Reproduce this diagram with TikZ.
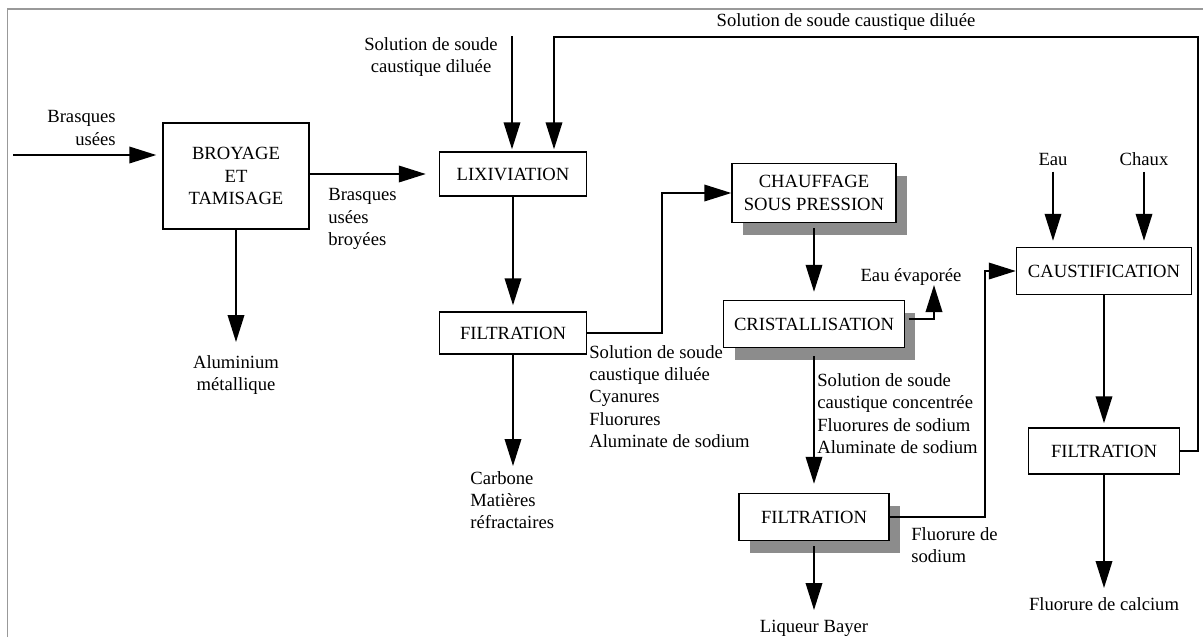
\documentclass[tikz,border=0pt]{standalone}
\usepackage{fontspec}
\setmainfont{Liberation Serif}
\usetikzlibrary{arrows.meta,positioning,shadows}

\begin{document}
\begin{tikzpicture}[x=0.02cm, y=-0.02cm, every node/.style={font=\fontsize{10.6}{12.7}\selectfont}, box/.style={draw, line width=0.8pt, fill=white, align=center, inner sep=0pt}, sbox/.style={box, general shadow={fill=black!45, shadow xshift=0.22cm, shadow yshift=-0.24cm}}, lbl/.style={inner sep=0pt, align=left}, arr/.style={-{Triangle[length=0.54cm, width=0.33cm]}, line width=1.1pt}]
\useasboundingbox (0,0) rectangle (1203,637);
\draw[black!40, line width=1.1pt] (7.5,637) -- (7.5,9) -- (1203,9);
\node[box, minimum width=2.92cm, minimum height=2.12cm] (broy) at (236,176) {BROYAGE\\ET\\TAMISAGE};
\node[box, minimum width=2.94cm, minimum height=0.88cm] (lix) at (513,174) {LIXIVIATION};
\node[box, minimum width=2.94cm, minimum height=0.84cm] (filt1) at (513,333) {FILTRATION};
\node[sbox, minimum width=3.28cm, minimum height=1.18cm] (chauf) at (814,193) {CHAUFFAGE\\SOUS PRESSION};
\node[sbox, minimum width=3.62cm, minimum height=0.94cm] (crist) at (814,324) {CRISTALLISATION};
\node[sbox, minimum width=3.0cm, minimum height=0.94cm] (filt2) at (814,517) {FILTRATION};
\node[box, minimum width=3.5cm, minimum height=0.94cm] (caust) at (1104,271) {CAUSTIFICATION};
\node[box, minimum width=3.02cm, minimum height=0.92cm] (filt3) at (1104,451) {FILTRATION};
\coordinate (brin) at (13,155);
\coordinate (sol1) at (512,36);
\coordinate (rtop) at (1198,37);
\coordinate (rin) at (554,37);
\coordinate (evap) at (934,285);
\coordinate (alu) at (236,342);
\coordinate (carb) at (513,466);
\coordinate (bay) at (814,610);
\coordinate (calc) at (1104,588);
\node[lbl, align=right, anchor=east] (lbras) at (116,128) {Brasques\\usées};
\node[lbl, anchor=west] (lbroy) at (328,219) {Brasques\\usées\\broyées};
\node[lbl, align=center] (lsol1) at (431,57) {Solution de soude\\caustique diluée};
\node[lbl] (lret) at (846,22) {Solution de soude caustique diluée};
\node[lbl, align=center] (lalu) at (236,375) {Aluminium\\métallique};
\node[lbl, anchor=west] (lcarb) at (470,500) {Carbone\\Matières\\réfractaires};
\node[lbl, anchor=west] (lfilt1) at (589,396.5) {Solution de soude\\caustique diluée\\Cyanures\\Fluorures\\Aluminate de sodium};
\node[lbl] (levap) at (911,277) {Eau évaporée};
\node[lbl, anchor=west] (lcrist) at (817,413.5) {Solution de soude\\caustique concentrée\\Fluorures de sodium\\Aluminate de sodium};
\node[lbl, anchor=west] (lfna) at (911,545) {Fluorure de\\sodium};
\node[lbl] (lbay) at (814,628) {Liqueur Bayer};
\node[lbl] (eau) at (1053,159) {Eau};
\node[lbl] (chaux) at (1144,159) {Chaux};
\node[lbl] (lcalc) at (1104,604) {Fluorure de calcium};
\draw[arr, shorten >=0.12cm] (brin) -- (brin -| broy.west);
\draw[arr, shorten >=0.26cm] (broy.east |- lix) -- (lix.west);
\draw[arr, shorten >=0.04cm] (sol1) -- (sol1 |- lix.north);
\draw[arr, shorten >=0.04cm] (filt3.east) -| (rtop) -- (rin) -- (rin |- lix.north);
\draw[arr, shorten >=0.12cm] (lix) -- (filt1);
\draw[arr] (broy) -- (alu);
\draw[arr] (filt1) -- (carb);
\draw[arr] (filt1.east) -- ++(75,0) |- (chauf.west);
\draw[arr, shorten <=0.1cm, shorten >=0.16cm] (chauf) -- (crist);
\draw[arr, shorten <=0.08cm] ([yshift=0.1cm]crist.east) -| (evap);
\draw[arr, shorten <=0.16cm, shorten >=0.18cm] (crist) -- (filt2);
\draw[arr] (filt2.east) -- ++(95,0) |- (caust.west);
\draw[arr, shorten <=0.1cm] (filt2) -- (bay);
\draw[arr, shorten <=0.12cm, shorten >=0.12cm] (eau) -- (eau |- caust.north);
\draw[arr, shorten <=0.12cm, shorten >=0.12cm] (chaux) -- (chaux |- caust.north);
\draw[arr, shorten >=0.08cm] (caust) -- (filt3);
\draw[arr] (filt3) -- (calc);
\end{tikzpicture}
\end{document}
